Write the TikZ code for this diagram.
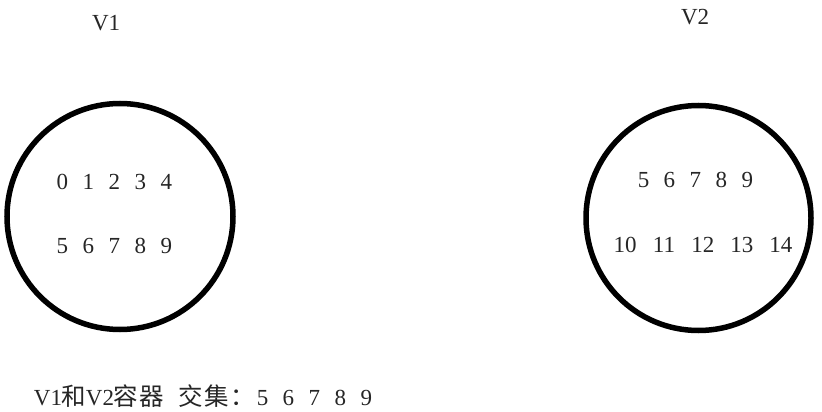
\documentclass[tikz,border=0pt]{standalone}
\usepackage{fontspec}
\setmainfont{Liberation Serif}
\newfontfamily\cjkfont{Noto Sans CJK SC}
\newcommand\hcellx[1]{\makebox[13pt]{#1}}
\newcommand\fcellx[1]{\makebox[26pt]{#1}}
\newcommand\rowofx[6]{\makebox[#1]{#2}\hskip13pt\makebox[#1]{#3}\hskip13pt\makebox[#1]{#4}\hskip13pt\makebox[#1]{#5}\hskip13pt\makebox[#1]{#6}}
\newcommand\zh[1]{\fcellx{\cjkfont\fontsize{24.5}{24.5}\selectfont #1}}
\begin{document}
\begin{tikzpicture}[x=1pt,y=-1pt,
  settxt/.style={inner sep=0pt,outer sep=0pt,anchor=base west,text=black!85,font=\fontsize{23}{23}\selectfont},
  ring/.style={draw=black,line width=5.5pt}]
\useasboundingbox (0,0) rectangle (822,412);
\node[ring,circle,minimum size=226pt,inner sep=0pt] (c1) at (120,216.5) {};
\node[ring,circle,minimum size=225pt,inner sep=0pt] (c2) at (698.5,218) {};
\node[settxt] (t1) at (92,31) {V1};
\node[settxt] (t2) at (681,25) {V2};
\node[settxt] (a1) at (56,189) {\rowofx{13pt}{0}{1}{2}{3}{4}};
\node[settxt] (a2) at (56,253) {\rowofx{13pt}{5}{6}{7}{8}{9}};
\node[settxt] (b1) at (637,187) {\rowofx{13pt}{5}{6}{7}{8}{9}};
\node[settxt] (b2) at (612,252) {\rowofx{26pt}{10}{11}{12}{13}{14}};
\node[settxt] (res) at (35,405) {\fcellx{V1}\zh{和}\fcellx{V2}\zh{容}\zh{器}\hskip13pt\zh{交}\zh{集}\zh{：}\rowofx{13pt}{5}{6}{7}{8}{9}};
\end{tikzpicture}
\end{document}
